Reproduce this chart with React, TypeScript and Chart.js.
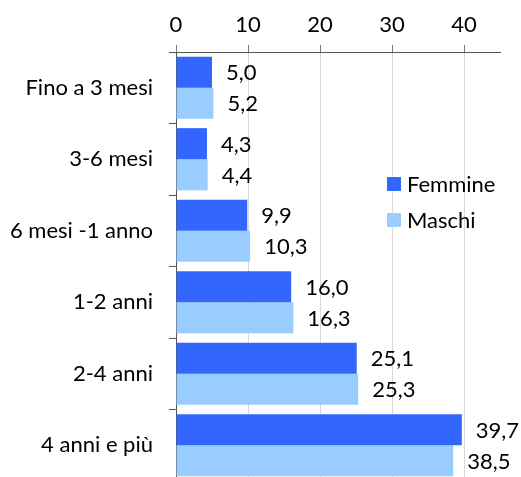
import React, { useEffect, useRef } from "react";
import { Chart, registerables } from "chart.js";

Chart.register(...registerables);

const categories = ["Fino a 3 mesi", "3-6 mesi", "6 mesi -1 anno", "1-2 anni", "2-4 anni", "4 anni e più"];
const femmine = [5.0, 4.3, 9.9, 16.0, 25.1, 39.7];
const maschi = [5.2, 4.4, 10.3, 16.3, 25.3, 38.5];
const seriesNames = ["Femmine", "Maschi"];
const seriesColors = ["#3366FF", "#99CCFF"];
const xTicks = [0, 10, 20, 30, 40];

const FONT = "Lato";
const FSIZE = 22;

const labelsPlugin = {
  id: "valueLabels",
  afterDatasetsDraw(chart: any) {
    const ctx = chart.ctx;
    ctx.save();
    ctx.font = `${FSIZE}px ${FONT}`;
    ctx.fillStyle = "#000";
    ctx.textAlign = "left";
    ctx.textBaseline = "middle";
    chart.data.datasets.forEach((ds: any, di: number) => {
      const meta = chart.getDatasetMeta(di);
      meta.data.forEach((bar: any, i: number) => {
        const v = ds.data[i] as number;
        const txt = v.toFixed(1).replace(".", ",");
        ctx.fillText(txt, bar.x + 14, bar.y + 1);
      });
    });
    ctx.restore();
  },
};

const legendPlugin = {
  id: "customLegend",
  afterDraw(chart: any) {
    const ctx = chart.ctx;
    const area = chart.chartArea;
    const x0 = area.left + 211;
    const y0 = area.top + 132;
    const rowH = 36;
    ctx.save();
    ctx.font = `${FSIZE}px ${FONT}`;
    ctx.textAlign = "left";
    ctx.textBaseline = "middle";
    chart.data.datasets.forEach((ds: any, i: number) => {
      const cy = y0 + i * rowH;
      ctx.fillStyle = ds.backgroundColor;
      ctx.fillRect(x0, cy - 7, 14, 14);
      ctx.fillStyle = "#000";
      ctx.fillText(ds.label, x0 + 20, cy + 1);
    });
    ctx.restore();
  },
};

export default function App() {
  const ref = useRef<HTMLCanvasElement>(null);
  useEffect(() => {
    document.body.style.margin = "0";
    const chart = new Chart(ref.current!, {
      type: "bar",
      data: {
        labels: categories,
        datasets: [
          { label: seriesNames[0], data: femmine, backgroundColor: seriesColors[0] },
          { label: seriesNames[1], data: maschi, backgroundColor: seriesColors[1] },
        ],
      },
      options: {
        indexAxis: "y",
        responsive: false,
        animation: false,
        layout: { padding: { top: 0, right: 21, bottom: 0, left: 0 } },
        datasets: { bar: { categoryPercentage: 0.87, barPercentage: 1 } },
        plugins: { legend: { display: false }, tooltip: { enabled: false } },
        scales: {
          x: {
            position: "top",
            min: 0,
            max: 45,
            afterBuildTicks: (s: any) => {
              s.ticks = xTicks.map((v) => ({ value: v }));
            },
            afterFit: (s: any) => {
              s.height = 52;
              s.paddingLeft = 0;
              s.paddingRight = 0;
            },
            grid: { color: "#d8d8d8", tickColor: "#808080", tickLength: 7 },
            border: { color: "#555555" },
            ticks: { color: "#000", font: { family: FONT, size: FSIZE }, padding: 7 },
          },
          y: {
            afterFit: (s: any) => {
              s.width = 176;
              s.paddingTop = 0;
              s.paddingBottom = 0;
            },
            grid: { drawOnChartArea: false, tickColor: "#555555", tickLength: 7, offset: true },
            border: { color: "#555555" },
            ticks: { color: "#000", font: { family: FONT, size: FSIZE }, padding: 16 },
          },
        },
      },
      plugins: [labelsPlugin, legendPlugin],
    });
    return () => chart.destroy();
  }, []);
  return (
    <div style={{ width: 521, height: 477, overflow: "hidden" }}>
      <canvas ref={ref} width={521} height={481} style={{ display: "block" }} />
    </div>
  );
}
